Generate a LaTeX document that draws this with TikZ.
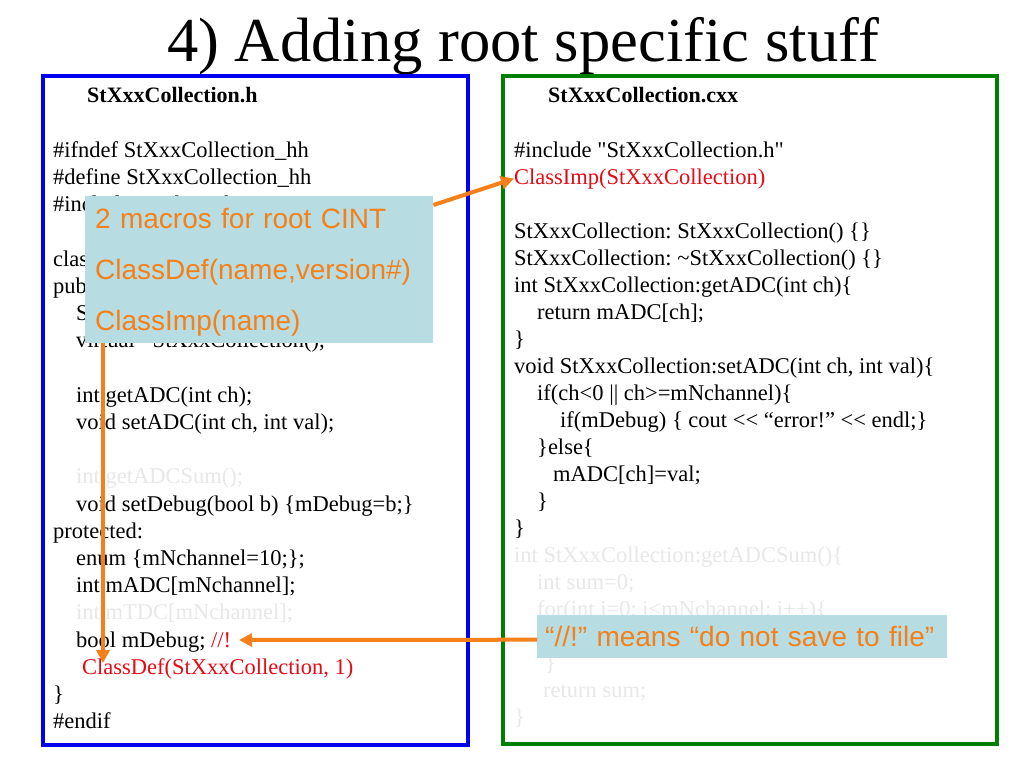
\documentclass[tikz,border=0pt]{standalone}
\usepackage{fontspec}
\setmainfont{Liberation Serif}
\newfontfamily\arialfont{Liberation Sans}
\usetikzlibrary{arrows.meta}
\definecolor{cadrebleu}{RGB}{0,0,240}
\definecolor{cadrevert}{RGB}{0,128,0}
\definecolor{orangeppt}{RGB}{245,128,25}
\definecolor{fondbulle}{RGB}{183,221,227}
\definecolor{rougecode}{RGB}{230,10,20}
\definecolor{grisclair}{RGB}{232,232,232}
\newcommand{\ind}{\hspace*{23pt}}
\newcommand{\guil}{\textquotedbl}
\tikzset{
	code/.style={anchor=base west,inner sep=0pt,font=\fontsize{22.5}{27}\selectfont},
	fichier/.style={anchor=base west,inner sep=0pt,font=\fontsize{22}{26}\selectfont\bfseries},
	bulle/.style={fill=fondbulle,anchor=north west,align=left,inner ysep=0pt,text=orangeppt,font=\arialfont\fontsize{28}{51}\selectfont},
	fleche/.style={orangeppt,line width=4pt,-{Triangle[length=13pt,width=13pt]}}
}
\begin{document}
\frenchspacing
\begin{tikzpicture}[x=1pt,y=-1pt]
%					Fond et cadre de la page :
					\fill[white] (0,0) rectangle (1024,768);
					\useasboundingbox (0,0) rectangle (1024,768);
%					Titre :
					\node[anchor=base,inner sep=0pt,font=\fontsize{62.6}{70}\selectfont] (titre) at (523,62) {4) Adding root specific stuff};
%					Cadres des deux fichiers :
					\draw[cadrebleu,line width=4pt] (43,76) rectangle (468,745);
					\draw[cadrevert,line width=4pt] (503,76) rectangle (997,744);
					\node[fichier] (fich-h) at (87,102) {StXxxCollection.h};
					\node[fichier] (fich-cxx) at (548,102) {StXxxCollection.cxx};
%					Fichier .h :
					\foreach \i/\ligne in {2/{\#ifndef StXxxCollection\_hh}, 3/{\#define StXxxCollection\_hh},
						4/{\#include \guil TObject.h\guil}, 6/{class StXxxCollection : public TObject \{}, 7/{public:},
						8/{\ind StXxxCollection();}, 9/{\ind virtual \textasciitilde StXxxCollection();},
						11/{\ind int getADC(int ch);}, 12/{\ind void setADC(int ch, int val);},
						14/{\ind\color{grisclair}int getADCSum();}, 15/{\ind void setDebug(bool b) \{mDebug=b;\}},
						16/{protected:}, 17/{\ind enum \{mNchannel=10;\};}, 18/{\ind int mADC[mNchannel];},
						19/{\ind\color{grisclair}int mTDC[mNchannel];}, 20/{\ind bool mDebug; {\color{rougecode}//!}},
						21/{\hspace*{29pt}\color{rougecode}ClassDef(StXxxCollection, 1)}, 22/{\}}, 23/{\#endif}}
						\node[code] (h-\i) at (53,103+27.2*\i) {\ligne};
%					Fichier .cxx :
					\foreach \i/\ligne in {2/{\#include \guil StXxxCollection.h\guil}, 3/{\color{rougecode}ClassImp(StXxxCollection)},
						5/{StXxxCollection: StXxxCollection() \{\}}, 6/{StXxxCollection: \textasciitilde StXxxCollection() \{\}},
						7/{int StXxxCollection:getADC(int ch)\{}, 8/{\ind return mADC[ch];}, 9/{\}},
						10/{void StXxxCollection:setADC(int ch, int val)\{}, 11/{\ind if(ch<0 || ch>=mNchannel)\{},
						12/{\hspace*{46pt}if(mDebug) \{ cout <{}< “error!” <{}< endl;\}}, 13/{\ind\}else\{},
						14/{\hspace*{39pt}mADC[ch]=val;}, 15/{\ind\}}, 16/{\}},
						17/{\color{grisclair}int StXxxCollection:getADCSum()\{}, 18/{\ind\color{grisclair}int sum=0;},
						19/{\ind\color{grisclair}for(int i=0; i<mNchannel; i++)\{}, 21/{\hspace*{31pt}\color{grisclair}\}},
						22/{\hspace*{29pt}\color{grisclair}return sum;}, 23/{\color{grisclair}\}}}
						\node[code] (cxx-\i) at (514,103+27*\i) {\ligne};
%					Bulles :
					\node[bulle,minimum width=348pt,minimum height=147pt,text width=328pt,inner xsep=10pt] (macros) at (85,196) {\rule{0pt}{26pt}2 macros for root CINT\\ClassDef(name,version\#)\\ClassImp(name)};
					\node[bulle,minimum width=410pt,minimum height=43pt,text width=394pt,inner xsep=8pt] (sauvegarde) at (537,615) {“//!” means “do not save to file”};
%					Flèches :
					\coordinate (pointe-def) at (103,663);
					\coordinate (pointe-bang) at (239,640);
					\draw[fleche] ([yshift=-9pt]macros.north east) -- (cxx-3.west);
					\draw[fleche] ([xshift=18pt]macros.south west) -- (pointe-def);
					\draw[fleche] ([yshift=-3pt]sauvegarde.west) -- (pointe-bang);
				\end{tikzpicture}
\end{document}
